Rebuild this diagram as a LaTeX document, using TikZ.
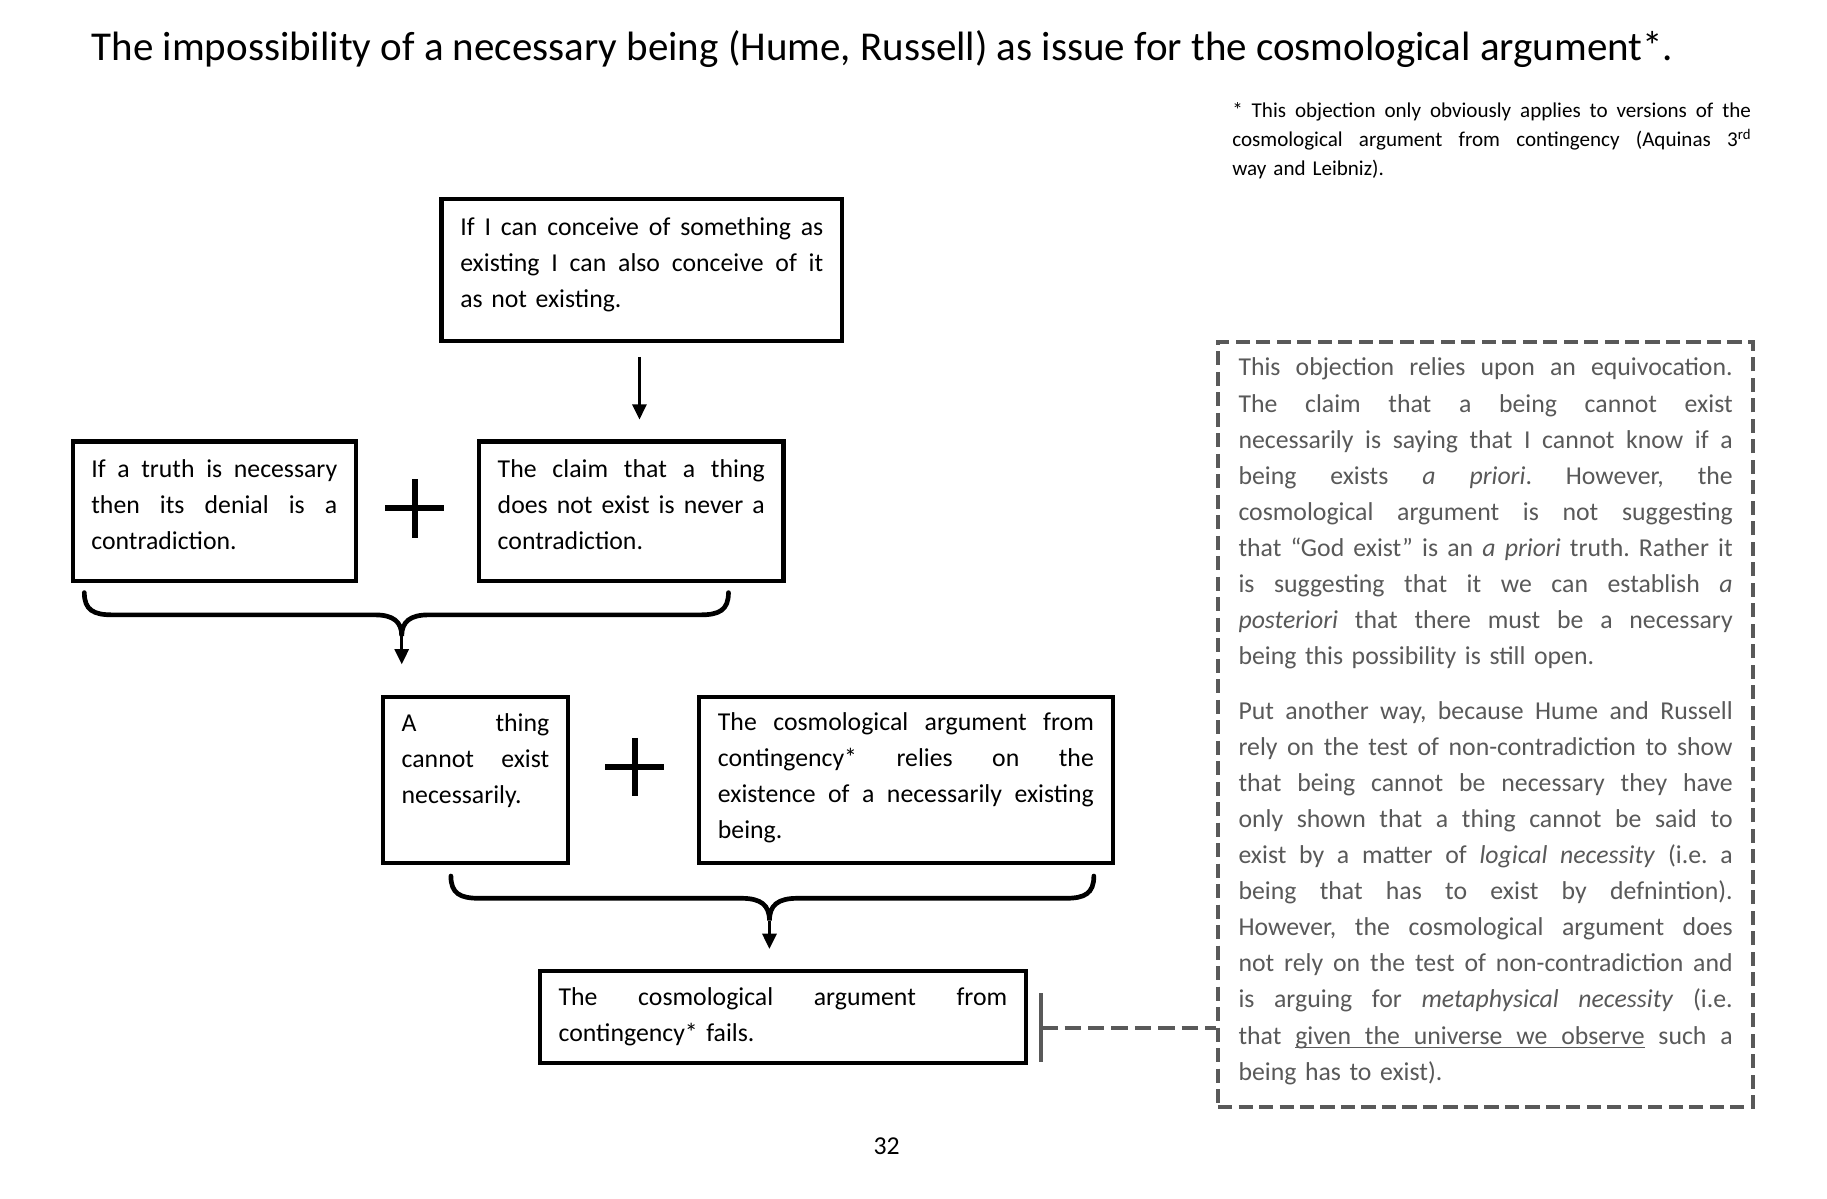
\documentclass[tikz,border=0pt]{standalone}
\usepackage{fontspec}
\setmainfont{Carlito}
\usetikzlibrary{arrows.meta,calc}
\definecolor{notegray}{RGB}{89,89,89}
\frenchspacing
\newcommand\J[1]{\leavevmode\hbox to\hsize{\spaceskip=0pt\xspaceskip=0pt\relax #1}}
\newcommand\dep[1]{\rule[-#1]{0pt}{#1}}
\newcommand\ulw[1]{\setbox0\hbox{#1}\rlap{\rule[-3.4pt]{\wd0}{1.2pt}}\box0\relax}
\newcommand\us{\leaders\hrule height -2.2pt depth 3.4pt\hskip\fontdimen2\font plus\fontdimen3\font minus\fontdimen4\font\relax}
\newcommand\bodyfont{\fontsize{22}{30.8}\selectfont\frenchspacing}
\tikzset{
  box/.style={draw, line width=3.5pt, inner xsep=16pt, inner ysep=0pt, align=left, font=\bodyfont},
  note/.style={draw=notegray, line width=3.5pt, dash pattern=on 12pt off 5.5pt, inner xsep=17.5pt, inner ysep=0pt, align=left, text=notegray, font=\bodyfont},
  arr/.style={line width=2.5pt, -{Triangle[width=12pt,length=13pt]}},
  brace/.style={line width=4pt, line cap=round},
  plusline/.style={line width=5pt},
  dashlink/.style={draw=notegray, line width=3.5pt, dash pattern=on 14pt off 6pt},
}
\begin{document}
\begin{tikzpicture}[x=1pt,y=-1pt]
\fill[white] (0,0) rectangle (1560,1023);
\useasboundingbox (0,0) rectangle (1560,1023);

\node[anchor=base west, inner sep=0pt, font=\fontsize{35}{40}\selectfont] (title) at (78,52)
  {The impossibility of a necessary being (Hume, Russell) as issue for the cosmological argument*.};

\node[anchor=base west, inner sep=0pt, text width=443pt, align=left, font=\fontsize{18}{25}\selectfont\frenchspacing] (foot) at (1052,100)
  {\J{* This objection only obviously applies to versions of the}\\
   \J{cosmological argument from contingency (Aquinas 3\textsuperscript{rd}}\\
   way and Leibniz).};

\node[box, text width=310pt, minimum height=121pt] (a) at (548,230.5)
  {\J{If I can conceive of something as}\\
   \J{existing I can also conceive of it}\\
   as not existing.\dep{13pt}};

\node[box, text width=210pt, minimum height=119pt] (b) at (183,436.5)
  {\J{If a truth is necessary}\\
   \J{then its denial is a}\\
   contradiction.\dep{12pt}};

\node[box, text width=228pt, minimum height=119pt] (c) at (539,436.5)
  {\J{The claim that a thing}\\
   \J{does not exist is never a}\\
   contradiction.\dep{12pt}};

\node[box, text width=126pt, minimum height=142pt] (d) at (406,666)
  {\J{A thing}\\
   \J{cannot exist}\\
   necessarily.\\
   \mbox{}\dep{6pt}};

\node[box, text width=321pt, minimum height=142pt] (e) at (773.5,666)
  {\J{The cosmological argument from}\\
   \J{contingency* relies on the}\\
   \J{existence of a necessarily existing}\\
   being.\dep{7pt}};

\node[box, text width=383pt, minimum height=79pt] (f) at (668.5,868.5)
  {\J{The cosmological argument from}\\
   contingency* fails.};

\node[note, text width=422pt, minimum height=653pt] (note) at (1268.5,618.5)
  {\J{This objection relies upon an equivocation.}\\
   \J{The claim that a being cannot exist}\\
   \J{necessarily is saying that I cannot know if a}\\
   \J{being exists \textit{a priori}. However, the}\\
   \J{cosmological argument is not suggesting}\\
   \J{that “God exist” is an \textit{a priori} truth. Rather it}\\
   \J{is suggesting that it we can establish \textit{a}}\\
   \J{\textit{posteriori} that there must be a necessary}\\
   being this possibility is still open.\\[16pt]
   \J{Put another way, because Hume and Russell}\\
   \J{rely on the test of non-contradiction to show}\\
   \J{that being cannot be necessary they have}\\
   \J{only shown that a thing cannot be said to}\\
   \J{exist by a matter of \textit{logical necessity} (i.e. a}\\
   \J{being that has to exist by defnintion).}\\
   \J{However, the cosmological argument does}\\
   \J{not rely on the test of non-contradiction and}\\
   \J{is arguing for \textit{metaphysical necessity} (i.e.}\\
   \J{that \ulw{given}\us\ulw{the}\us\ulw{universe}\us\ulw{we}\us\ulw{observe} such a}\\
   being has to exist).\dep{9pt}};

\node[inner sep=0pt, font=\bodyfont] (pg) at (757,979) {32};

% plus signs
\draw[plusline] (329,434) -- (379,434) (354,409) -- (354,459);
\draw[plusline] (517,655) -- (567,655) (542,630) -- (542,680);

% arrow from top box
\coordinate (a1) at ($(a.south)+(-2,12)$);
\draw[arr, shorten >=17pt] (a1) -- (a1 |- c.north);

% brace 1
\draw[brace] (72,506) .. controls (72,521) and (80,525) .. (96,525) -- (320,525)
  .. controls (336,525) and (343,531) .. (343,543)
  .. controls (343,531) and (350,525) .. (366,525) -- (598,525)
  .. controls (614,525) and (622,521) .. (622,506);
\coordinate (c1) at (343,543);
\draw[arr, shorten >=26pt] (c1) -- (c1 |- d.north);

% brace 2
\draw[brace] (385,748) .. controls (385,763) and (393,767) .. (409,767) -- (633,767)
  .. controls (650,767) and (657,773) .. (657,786)
  .. controls (657,773) and (664,767) .. (681,767) -- (910,767)
  .. controls (926,767) and (934,763) .. (934,748);
\coordinate (c2) at (657,786);
\draw[arr, shorten >=17pt] (c2) -- (c2 |- f.north);

% T connector to the note
\coordinate (tb) at (889,878);
\draw[notegray, line width=3pt] (889,848) -- (889,907);
\draw[dashlink] (tb) -- (tb -| note.west);
\end{tikzpicture}
\end{document}
